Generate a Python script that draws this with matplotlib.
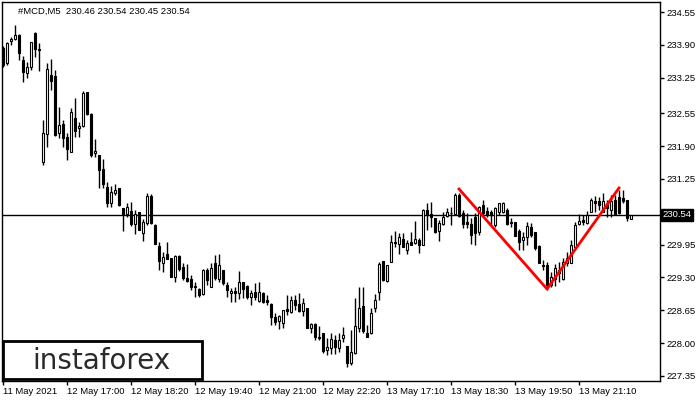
import matplotlib
matplotlib.use("Agg")
import matplotlib.pyplot as plt
from matplotlib.patches import Rectangle

# 5-minute candles, #MCD M5 (11-13 May 2021)
opens = [233.84, 233.54, 233.98, 234.02, 234.10, 233.60, 233.34, 233.46, 234.13, 233.82,
         231.58, 232.14, 233.30, 233.28, 232.16, 232.33, 232.08, 231.78, 232.45, 232.26,
         232.29, 232.97, 232.53, 231.76, 231.72, 231.44, 231.09, 230.77, 230.97, 231.07,
         230.67, 230.55, 230.61, 230.36, 230.59, 230.18, 230.38, 230.91, 230.34, 229.92,
         229.58, 229.76, 229.68, 229.31, 229.72, 229.51, 229.29, 229.27, 229.13, 229.07,
         228.97, 229.45, 229.11, 229.58, 229.27, 229.45, 229.15, 228.99, 229.03, 228.99,
         229.21, 229.13, 228.91, 229.01, 228.83, 228.99, 228.85, 228.77, 228.52, 228.44,
         228.40, 228.67, 228.62, 228.85, 228.77, 228.63, 228.69, 228.30, 228.38, 228.12,
         228.20, 227.86, 227.90, 228.06, 227.90, 228.10, 227.94, 227.61, 227.80, 228.30,
         228.73, 228.20, 228.20, 228.69, 229.01, 229.62, 229.23, 229.60, 230.00, 229.96,
         230.06, 229.84, 230.00, 229.98, 230.04, 229.94, 230.63, 230.55, 230.47, 230.22,
         230.36, 230.51, 230.57, 230.55, 230.93, 230.57, 230.40, 230.36, 230.49, 230.20,
         230.73, 230.61, 230.59, 230.34, 230.59, 230.59, 230.63, 230.40, 230.40, 230.22,
         230.04, 230.10, 230.30, 230.20, 229.92, 229.54, 229.54, 229.15, 229.27, 229.45,
         229.27, 229.58, 229.58, 229.90, 230.36, 230.44, 230.38, 230.59, 230.81, 230.81,
         230.59, 230.75, 230.63, 230.83, 230.89, 230.87, 230.83, 230.46]
highs = [233.88, 233.96, 234.06, 234.29, 234.11, 233.68, 233.56, 233.96, 234.15, 233.94,
         232.41, 233.54, 233.62, 233.40, 232.67, 232.41, 232.16, 232.65, 232.85, 232.37,
         232.99, 232.97, 232.55, 232.04, 231.72, 231.64, 231.19, 231.11, 231.15, 231.07,
         230.67, 230.77, 230.79, 230.63, 230.59, 230.45, 230.97, 230.95, 230.36, 230.00,
         229.80, 230.00, 229.68, 229.74, 229.74, 229.58, 229.56, 229.35, 229.21, 229.09,
         229.47, 229.49, 229.58, 229.74, 229.76, 229.45, 229.21, 229.09, 229.11, 229.43,
         229.21, 229.15, 229.05, 229.19, 229.21, 229.01, 228.95, 228.79, 228.60, 228.56,
         228.65, 228.95, 228.93, 228.95, 228.99, 228.89, 228.69, 228.40, 228.40, 228.34,
         228.20, 228.10, 228.20, 228.16, 228.20, 228.32, 227.94, 228.26, 228.89, 229.11,
         229.11, 228.36, 228.69, 228.97, 229.60, 229.62, 229.54, 230.14, 230.22, 230.18,
         230.18, 230.04, 230.20, 230.42, 230.08, 230.65, 230.77, 230.79, 230.47, 230.44,
         230.59, 230.67, 230.69, 230.97, 230.97, 230.63, 230.57, 230.47, 230.57, 230.71,
         230.83, 230.69, 230.63, 230.69, 230.77, 230.79, 230.67, 230.47, 230.40, 230.26,
         230.20, 230.40, 230.38, 230.20, 229.94, 229.64, 229.60, 229.41, 229.56, 229.60,
         229.68, 229.80, 230.04, 230.40, 230.55, 230.53, 230.61, 230.87, 230.91, 230.89,
         230.97, 230.83, 230.93, 230.93, 231.03, 231.03, 230.83, 230.54]
lows = [233.46, 233.50, 233.90, 234.00, 233.60, 233.17, 233.24, 233.40, 233.66, 233.38,
        231.52, 231.88, 233.01, 232.10, 232.06, 231.88, 231.62, 231.78, 232.08, 232.08,
        232.27, 232.51, 231.68, 231.68, 231.07, 231.07, 230.69, 230.69, 230.93, 230.71,
        230.22, 230.49, 230.32, 230.16, 230.24, 230.02, 230.34, 230.36, 229.96, 229.45,
        229.41, 229.66, 229.31, 229.21, 229.43, 229.25, 229.21, 229.05, 228.91, 228.91,
        228.95, 229.15, 229.11, 229.25, 229.21, 229.15, 228.91, 228.81, 228.81, 228.87,
        228.89, 228.87, 228.75, 228.85, 228.81, 228.79, 228.75, 228.36, 228.36, 228.28,
        228.30, 228.56, 228.60, 228.65, 228.62, 228.54, 228.30, 228.20, 228.06, 228.06,
        227.80, 227.76, 227.78, 227.78, 227.82, 228.02, 227.53, 227.57, 227.78, 228.22,
        228.20, 228.12, 228.18, 228.62, 228.85, 229.23, 229.21, 229.60, 229.90, 229.76,
        229.90, 229.76, 229.94, 229.96, 229.78, 229.94, 230.24, 230.30, 230.18, 230.02,
        230.34, 230.49, 230.34, 230.53, 230.49, 230.28, 230.28, 229.96, 229.94, 230.14,
        230.49, 230.49, 230.34, 230.30, 230.53, 230.57, 230.34, 230.30, 230.12, 229.84,
        229.84, 229.94, 230.10, 229.84, 229.58, 229.45, 229.05, 229.11, 229.13, 229.21,
        229.25, 229.53, 229.58, 229.90, 230.34, 230.34, 230.36, 230.59, 230.59, 230.63,
        230.59, 230.49, 230.49, 230.53, 230.55, 230.77, 230.42, 230.45]
closes = [233.50, 233.94, 234.02, 234.10, 233.74, 233.36, 233.46, 233.96, 233.82, 233.81,
          232.16, 233.42, 233.18, 232.12, 232.31, 232.06, 231.84, 232.57, 232.20, 232.29,
          232.95, 232.53, 231.72, 231.80, 231.42, 231.15, 230.77, 230.99, 231.03, 230.73,
          230.55, 230.69, 230.36, 230.55, 230.24, 230.40, 230.91, 230.38, 229.96, 229.62,
          229.70, 229.66, 229.31, 229.72, 229.47, 229.29, 229.23, 229.11, 229.11, 228.95,
          229.45, 229.25, 229.49, 229.29, 229.54, 229.19, 229.05, 229.03, 228.99, 229.21,
          229.07, 228.91, 228.99, 228.91, 229.01, 228.81, 228.81, 228.52, 228.42, 228.54,
          228.65, 228.63, 228.85, 228.75, 228.63, 228.79, 228.30, 228.38, 228.12, 228.10,
          227.84, 227.92, 228.08, 227.92, 228.06, 228.16, 227.61, 227.82, 228.34, 228.69,
          228.24, 228.12, 228.60, 228.85, 229.56, 229.25, 229.54, 230.00, 229.98, 230.10,
          229.90, 229.98, 229.94, 230.06, 229.94, 230.63, 230.53, 230.49, 230.20, 230.38,
          230.49, 230.59, 230.58, 230.93, 230.51, 230.36, 230.36, 230.14, 230.18, 230.69,
          230.57, 230.53, 230.53, 230.67, 230.77, 230.77, 230.36, 230.38, 230.12, 230.00,
          230.10, 230.32, 230.14, 229.88, 229.58, 229.53, 229.15, 229.31, 229.49, 229.39,
          229.60, 229.68, 229.94, 230.34, 230.42, 230.40, 230.53, 230.83, 230.77, 230.73,
          230.81, 230.67, 230.81, 230.55, 230.57, 230.81, 230.47, 230.54]

# double top pattern line (bar index, price)
pattern_bars = [114, 136, 154]
pattern_prices = [231.05, 229.07, 231.07]

last_price = 230.54
price_ticks = [227.35, 228.00, 228.65, 229.30, 229.95, 231.25, 231.90, 232.55, 233.25, 233.90, 234.55]
time_tick_bars = [0, 16, 32, 48, 64, 80, 96, 112, 128, 144]
time_tick_labels = ["11 May 2021", "12 May 17:00", "12 May 18:20", "12 May 19:40", "12 May 21:00",
                    "12 May 22:20", "13 May 17:10", "13 May 18:30", "13 May 19:50", "13 May 21:10"]
header = "#MCD,M5  230.46 230.54 230.45 230.54"

plt.rcParams['font.family'] = ['Liberation Sans', 'DejaVu Sans']

W, H = 700, 400
fig = plt.figure(figsize=(7, 4), dpi=100)
ax = fig.add_axes([2 / W, 1 - 381 / H, 658 / W, 379 / H])

idx = list(range(len(opens)))
# wicks
ax.vlines(idx, lows, highs, color='black', linewidth=1, zorder=2)
# bodies: white = up, black = down
for i in idx:
    o, c = opens[i], closes[i]
    lo = min(o, c)
    h = max(abs(c - o), 0.004)
    face = 'white' if c >= o else 'black'
    ax.add_patch(Rectangle((i - 0.3, lo), 0.6, h, facecolor=face, edgecolor='black',
                           linewidth=0.8, zorder=3))

# current price line
ax.axhline(last_price, color='black', linewidth=1, zorder=1)

# pattern
ax.plot(pattern_bars, pattern_prices, color='#ff0000', linewidth=2, zorder=4)

ax.set_xlim(-0.25, 164.25)
ax.set_ylim(227.25, 234.75)

for s in ax.spines.values():
    s.set_color('black')
    s.set_linewidth(1)

ax.yaxis.tick_right()
ax.set_yticks(price_ticks)
ax.set_yticklabels([f"{p:.2f}" for p in price_ticks])
ax.tick_params(axis='y', direction='out', length=3, width=1, pad=2, labelsize=6.8, colors='black')

ax.set_xticks(time_tick_bars)
ax.set_xticklabels(time_tick_labels, ha='left')
ax.tick_params(axis='x', direction='out', length=3, width=1, pad=1.5, labelsize=6.8, colors='black')

# header
ax.text(16 / 658, 1 - 9 / 379, header, transform=ax.transAxes, fontsize=6.8,
        ha='left', va='center', color='black')

# last price tag
ax.text(1.004, last_price, f"{last_price:.2f}", transform=ax.get_yaxis_transform(),
        fontsize=6.8, color='white', ha='left', va='center', zorder=10, clip_on=False,
        bbox=dict(boxstyle='square,pad=0.15', facecolor='black', edgecolor='black'))

# watermark box
box = Rectangle((3 / W, 1 - 379 / H), 199 / W, 38 / H, transform=fig.transFigure,
                facecolor='white', edgecolor='black', linewidth=2, zorder=20)
fig.add_artist(box)
fig.text(101 / W, 1 - 361 / H, "instaforex", fontsize=20, color='#2a2a2a',
         family='DejaVu Sans', ha='center', va='center', zorder=21)

fig.savefig('out.png', dpi=100)
